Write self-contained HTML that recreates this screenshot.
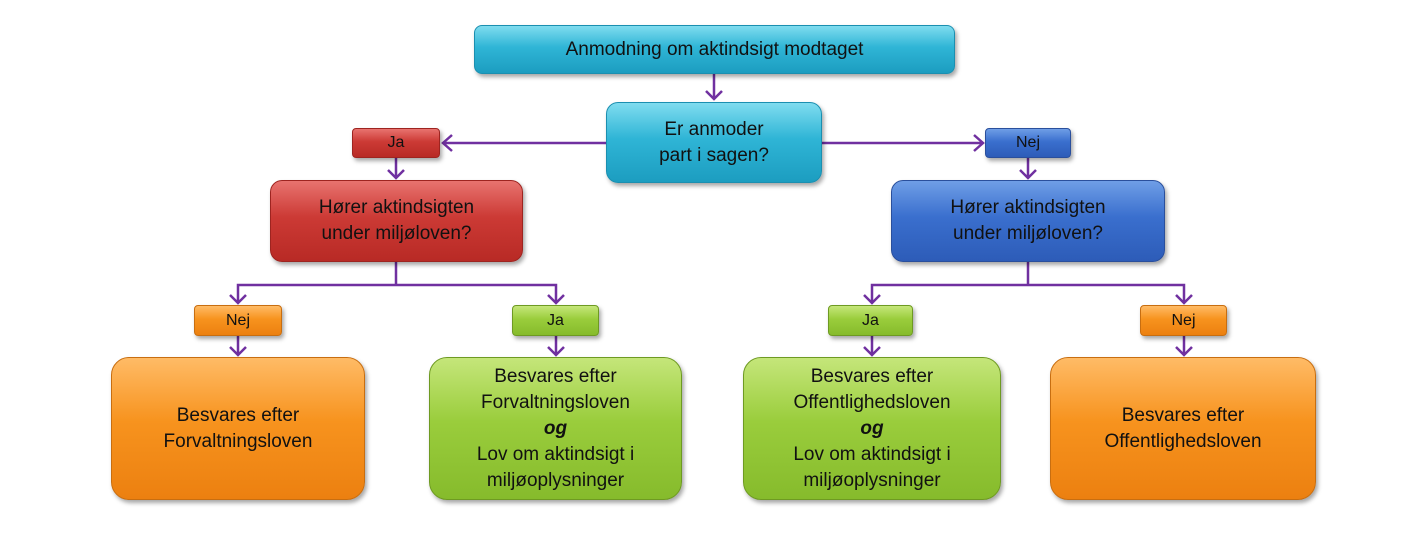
<!DOCTYPE html>
<html><head><meta charset="utf-8"><style>
body{margin:0;width:1420px;height:543px;background:#fff;position:relative;overflow:hidden;font-family:"Liberation Sans","DejaVu Sans",sans-serif;}
.b{position:absolute;display:flex;align-items:center;justify-content:center;text-align:center;color:#111;box-sizing:border-box;box-shadow:2px 3px 4px rgba(0,0,0,.35);}
.cy{background:linear-gradient(#7fdcef,#2fb5d6 45%,#1c9dc0);border:1px solid #1b8fb0;border-radius:8px;}
.rd{background:linear-gradient(#e8736f,#cc3a35 45%,#b82a25);border:1px solid #9e2420;border-radius:12px;}
.bl{background:linear-gradient(#6f9ee6,#3a6fce 45%,#2d5cb8);border:1px solid #2a4f9c;border-radius:12px;}
.or{background:linear-gradient(#ffbb66,#f7931e 45%,#ec8010);border:1px solid #c86e10;border-radius:18px;}
.gr{background:linear-gradient(#c5e67a,#9acd3c 45%,#86bb2c);border:1px solid #6e9a22;border-radius:18px;}
.s{border-radius:4px;font-size:16px;}
.t{font-size:19px;line-height:26px;}
</style></head><body>
<svg width="1420" height="543" style="position:absolute;left:0;top:0" fill="none" stroke="#7030a0" stroke-width="2.5">
<path d="M714 74V99M706 91l8 8 8-8"/>
<path d="M606 143H443M452 135l-9 8 9 8"/>
<path d="M822 143H983M974 135l9 8-9 8"/>
<path d="M396 158V178M388 170l8 8 8-8"/>
<path d="M1028 158V178M1020 170l8 8 8-8"/>
<path d="M396 262V285M238 303V285H556V303M230 295l8 8 8-8M548 295l8 8 8-8"/>
<path d="M1028 262V285M872 303V285H1184V303M864 295l8 8 8-8M1176 295l8 8 8-8"/>
<path d="M238 336V355M230 347l8 8 8-8M556 336V355M548 347l8 8 8-8"/>
<path d="M872 336V355M864 347l8 8 8-8M1184 336V355M1176 347l8 8 8-8"/>
</svg>
<div class="b cy" style="left:474px;top:25px;width:481px;height:49px;font-size:19px">Anmodning om aktindsigt modtaget</div>
<div class="b cy t" style="left:606px;top:102px;width:216px;height:81px;border-radius:12px"><span>Er anmoder<br>part i sagen?</span></div>
<div class="b rd s" style="left:352px;top:128px;width:88px;height:30px">Ja</div>
<div class="b bl s" style="left:985px;top:128px;width:86px;height:30px">Nej</div>
<div class="b rd t" style="left:270px;top:180px;width:253px;height:82px"><span>Hører aktindsigten<br>under miljøloven?</span></div>
<div class="b bl t" style="left:891px;top:180px;width:274px;height:82px"><span>Hører aktindsigten<br>under miljøloven?</span></div>
<div class="b or s" style="left:194px;top:305px;width:88px;height:31px">Nej</div>
<div class="b gr s" style="left:512px;top:305px;width:87px;height:31px">Ja</div>
<div class="b gr s" style="left:828px;top:305px;width:85px;height:31px">Ja</div>
<div class="b or s" style="left:1140px;top:305px;width:87px;height:31px">Nej</div>
<div class="b or t" style="left:111px;top:357px;width:254px;height:143px"><span>Besvares efter<br>Forvaltningsloven</span></div>
<div class="b gr t" style="left:429px;top:357px;width:253px;height:143px"><span>Besvares efter<br>Forvaltningsloven<br><b><i>og</i></b><br>Lov om aktindsigt i<br>miljøoplysninger</span></div>
<div class="b gr t" style="left:743px;top:357px;width:258px;height:143px"><span>Besvares efter<br>Offentlighedsloven<br><b><i>og</i></b><br>Lov om aktindsigt i<br>miljøoplysninger</span></div>
<div class="b or t" style="left:1050px;top:357px;width:266px;height:143px"><span>Besvares efter<br>Offentlighedsloven</span></div>
</body></html>
